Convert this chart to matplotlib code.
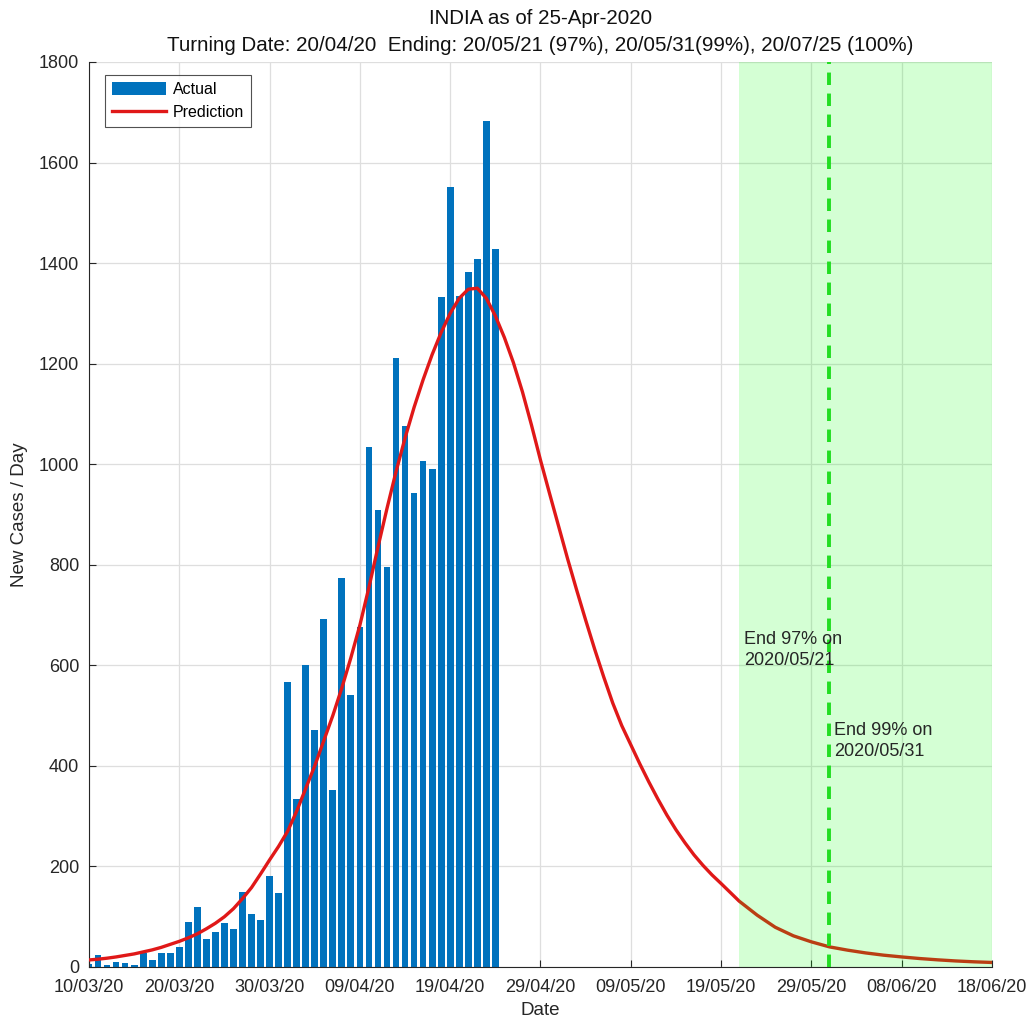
import matplotlib
matplotlib.use("Agg")
import matplotlib.pyplot as plt
import pandas as pd

plt.rcParams['font.family'] = ['Liberation Sans', 'DejaVu Sans']

# ---------------- data ----------------
bar_start = "2020-03-10"
actual_cases = [6, 24, 3, 9, 7, 4, 28, 13, 28, 27,
                40, 90, 120, 55, 70, 88, 75, 150, 105, 93,
                181, 147, 567, 335, 601, 471, 692, 353, 773, 540,
                677, 1035, 909, 796, 1211, 1075, 942, 1007, 990, 1333,
                1552, 1335, 1383, 1408, 1683, 1428]

# prediction curve: day offset from 10/03/20 and value
pred_day = [0, 1, 2, 3, 4, 5, 6, 7, 8, 9, 10, 11, 12, 13, 14, 15, 16, 17, 18, 19,
            20, 21, 22, 23, 24, 25, 26, 27, 28, 29, 30, 31, 32, 33, 34, 35, 36, 37,
            38, 39, 40, 41, 42, 43, 44, 45, 46, 47, 48, 49, 50, 51, 52, 53, 54, 55,
            56, 57, 58, 59, 60, 61, 62, 63, 64, 65, 66, 67, 68, 69, 70, 72, 74, 76,
            78, 80, 82, 84, 86, 88, 90, 92, 94, 96, 98, 100]
pred_val = [14, 15.5, 17.5, 20, 23, 26, 30, 34, 39, 45, 51, 58, 66, 76, 87, 100,
            116, 136, 158, 185, 213, 240, 270, 310, 355, 400, 450, 500, 555, 615,
            680, 755, 835, 912, 985, 1052, 1113, 1168, 1218, 1262, 1300, 1330, 1348,
            1350, 1330, 1295, 1252, 1202, 1144, 1078, 1008, 942, 877, 812, 750, 690,
            632, 577, 525, 480, 442, 404, 368, 334, 302, 273, 247, 223, 202, 183,
            166, 131, 103, 79, 62, 50, 40, 33.5, 28, 23.5, 20, 16.8, 14.2, 12, 10.3, 9]

xtick_labels = ["10/03/20", "20/03/20", "30/03/20", "09/04/20", "19/04/20",
                "29/04/20", "09/05/20", "19/05/20", "29/05/20", "08/06/20", "18/06/20"]
yticks = [0, 200, 400, 600, 800, 1000, 1200, 1400, 1600, 1800]

end97_date = "2020-05-21"
end99_date = "2020-05-31"
end_date = "2020-06-18"
text97 = ("End 97% on\n2020/05/21", 630)
text99 = ("End 99% on\n2020/05/31", 450)
title_lines = ["INDIA as of 25-Apr-2020",
               "Turning Date: 20/04/20  Ending: 20/05/21 (97%), 20/05/31(99%), 20/07/25 (100%)"]

# --------------- plot -----------------
fig = plt.figure(figsize=(10.30, 10.21), dpi=100)
ax = fig.add_axes([0.0864, 0.0529, 0.9631 - 0.0864, 0.9393 - 0.0529])

start = pd.Timestamp(bar_start)
bar_dates = pd.date_range(start, periods=len(actual_cases), freq="D")
bars = ax.bar(bar_dates, actual_cases, width=0.75, color="#0072BD", label="Actual", zorder=2)

pred_dates = [start + pd.Timedelta(days=d) for d in pred_day]
line, = ax.plot(pred_dates, pred_val, color="#E01818", lw=2.4, label="Prediction",
                zorder=3, solid_joinstyle="round")

# shaded end region
ax.axvspan(pd.Timestamp(end97_date), pd.Timestamp(end_date), color=(0.0, 1.0, 0.0),
           alpha=0.17, lw=0, zorder=4)
ln = ax.axvline(pd.Timestamp(end99_date), color="#22DD22", lw=2.8, zorder=5)
ln.set_dashes((3.2, 2.2))

ax.text(pd.Timestamp(end97_date) + pd.Timedelta(days=0.5), text97[1], text97[0],
        fontsize=13, va="center", ha="left", color="#262626", zorder=6, linespacing=1.3)
ax.text(pd.Timestamp(end99_date) + pd.Timedelta(days=0.5), text99[1], text99[0],
        fontsize=13, va="center", ha="left", color="#262626", zorder=6, linespacing=1.3)

ax.set_xlim(start, pd.Timestamp(end_date))
ax.set_ylim(0, 1800)
xt = [pd.to_datetime(s, format="%d/%m/%y") for s in xtick_labels]
ax.set_xticks(xt)
ax.set_xticklabels(xtick_labels)
ax.set_yticks(yticks)
ax.set_yticklabels([str(v) for v in yticks])

ax.grid(True, color="#DEDEDE", lw=0.9, zorder=0)
ax.set_axisbelow(True)
for s in ["top", "right"]:
    ax.spines[s].set_visible(False)
for s in ["left", "bottom"]:
    ax.spines[s].set_color("#262626")
    ax.spines[s].set_linewidth(0.8)
ax.tick_params(direction="in", length=5, width=0.8, colors="#262626", labelsize=13)
ax.tick_params(axis="x", pad=9)
ax.tick_params(axis="y", pad=7)

ax.set_xlabel("Date", fontsize=13.5, color="#262626", labelpad=4)
ax.set_ylabel("New Cases / Day", fontsize=13.5, color="#262626", labelpad=8)
ax.set_title(title_lines[0] + "\n" + title_lines[1], fontsize=14.8, color="#111111",
             pad=8, linespacing=1.5)

leg = ax.legend([bars, line], ["Actual", "Prediction"],
                loc="upper left", bbox_to_anchor=(0.0177, 0.9856), borderaxespad=0,
                fontsize=11.5, frameon=True, fancybox=False, edgecolor="#262626",
                handlelength=3.4, handleheight=0.9, borderpad=0.45, labelspacing=0.45,
                handletextpad=0.4)
leg.get_frame().set_linewidth(0.8)
leg.set_zorder(10)

fig.savefig("out.png", dpi=100)
